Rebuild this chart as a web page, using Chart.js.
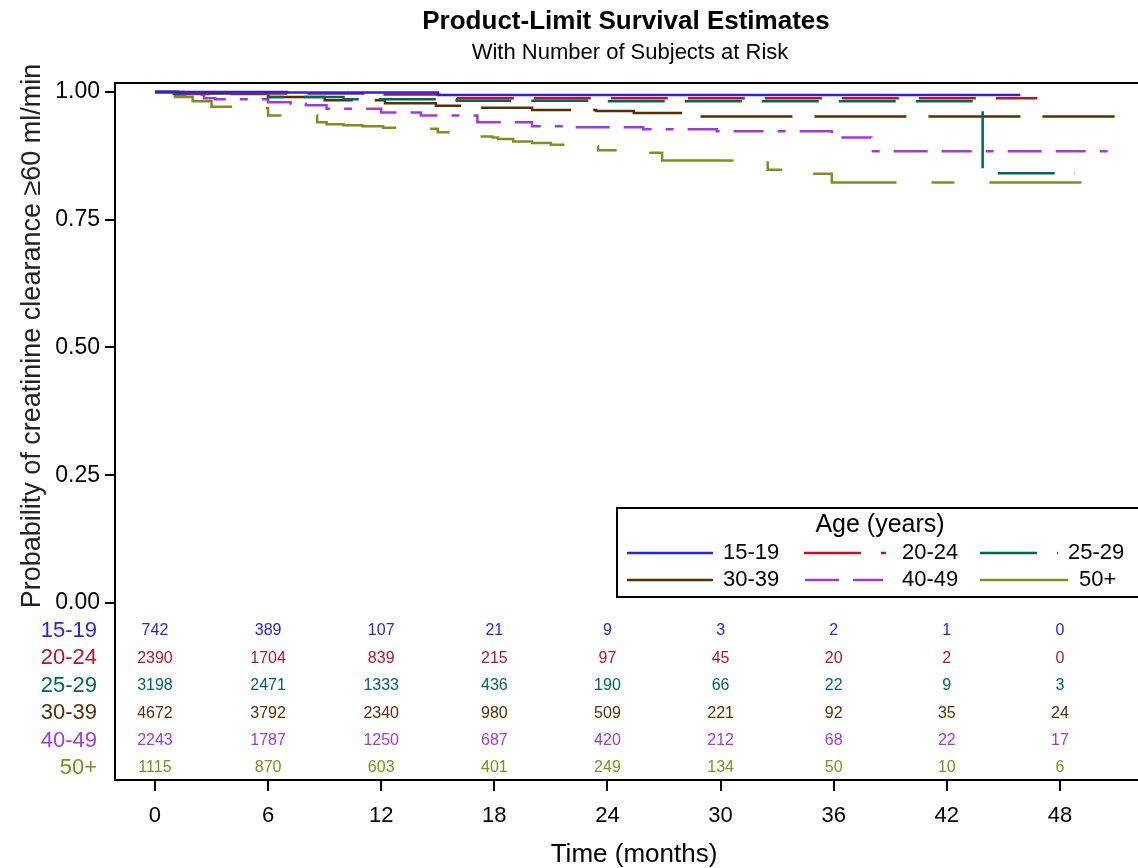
<!DOCTYPE html>
<html>
<head>
<meta charset="utf-8">
<script src="https://cdn.jsdelivr.net/npm/chart.js@4.4.1/dist/chart.umd.min.js"></script>
<style>
  html, body { margin: 0; padding: 0; background: #fff; overflow: hidden; }
  #wrap { width: 1138px; height: 868px; }
</style>
</head>
<body>
<div id="wrap"><canvas id="kmChart" width="1138" height="868"></canvas></div>
<script>
const FONT = "'Liberation Sans', Arial, sans-serif";

const groups = ["15-19", "20-24", "25-29", "30-39", "40-49", "50+"];
const colors = ["#2A25D9", "#B2182B", "#01665E", "#543005", "#9D3CDB", "#7F8E1F"];
const dashes = [[], [57, 20], [57, 20], [92, 22], [34, 14, 30, 14, 8, 14], [92, 35, 23, 35]];

// Kaplan-Meier steps: [month, survival]
const surv1519 = [[0, 1], [7, 0.999], [15, 0.994], [45.9, 0.994]];
const surv2024 = [[0, 1], [1.5, 0.997], [12, 0.995], [16, 0.988], [46.8, 0.988]];
const surv2529 = [[0, 1], [1, 0.996], [6, 0.990], [10, 0.986], [16, 0.983], [24, 0.982], [43.9, 0.841], [48.8, 0.841]];
const surv3039 = [[0, 1], [1.2, 0.997], [6, 0.990], [9, 0.984], [12.2, 0.978], [14.9, 0.973], [16.3, 0.969],
  [20, 0.965], [23.4, 0.963], [25.4, 0.959], [28, 0.952], [50.9, 0.952]];
const surv4049 = [[0, 1], [1.2, 0.995], [2.6, 0.988], [3.2, 0.986], [6, 0.980], [7.2, 0.977], [8, 0.974],
  [9.1, 0.967], [12, 0.960], [14.1, 0.954], [17.1, 0.941], [20, 0.933], [22, 0.931], [25.9, 0.927],
  [29.8, 0.923], [35.9, 0.911], [38, 0.884], [50.9, 0.884]];
const surv50 = [[0, 1], [1.06, 0.990], [2, 0.982], [3, 0.971], [4.1, 0.968], [6, 0.954], [8.6, 0.941],
  [9.1, 0.937], [10, 0.935], [11, 0.933], [12.1, 0.930], [13, 0.928], [15, 0.921], [16, 0.913],
  [17.9, 0.911], [18.2, 0.908], [19, 0.903], [20, 0.900], [21, 0.897], [22, 0.894], [23.5, 0.886],
  [24.9, 0.881], [26.9, 0.866], [32.5, 0.848], [33.8, 0.840], [35.9, 0.823], [50.8, 0.823]];
const curves = [surv1519, surv2024, surv2529, surv3039, surv4049, surv50];

// number at risk
const riskTimes = [0, 6, 12, 18, 24, 30, 36, 42, 48];
const risk1519 = [742, 389, 107, 21, 9, 3, 2, 1, 0];
const risk2024 = [2390, 1704, 839, 215, 97, 45, 20, 2, 0];
const risk2529 = [3198, 2471, 1333, 436, 190, 66, 22, 9, 3];
const risk3039 = [4672, 3792, 2340, 980, 509, 221, 92, 35, 24];
const risk4049 = [2243, 1787, 1250, 687, 420, 212, 68, 22, 17];
const risk50 = [1115, 870, 603, 401, 249, 134, 50, 10, 6];
const riskRows = [risk1519, risk2024, risk2529, risk3039, risk4049, risk50];

const yTicks = [0, 0.25, 0.5, 0.75, 1];

// legend placement: [lineStart, lineEnd, labelX, row]
const legendSlots = [[627, 713, 723, 0], [804, 886, 902, 0], [980, 1058, 1068, 0],
                     [627, 713, 723, 1], [805, 883, 902, 1], [980, 1068, 1079, 1]];

const overlay = {
  id: "overlay",
  afterDraw(chart) {
    const ctx = chart.ctx;
    const xs = chart.scales.x, ys = chart.scales.y;
    const area = chart.chartArea;
    ctx.save();

    // top frame
    ctx.strokeStyle = "#000";
    ctx.lineWidth = 2;
    ctx.beginPath();
    ctx.moveTo(area.left - 1, area.top);
    ctx.lineTo(area.right, area.top);
    ctx.stroke();

    // titles
    ctx.fillStyle = "#000";
    ctx.textAlign = "center";
    ctx.textBaseline = "middle";
    ctx.font = "bold 26px " + FONT;
    ctx.fillText("Product-Limit Survival Estimates", 626, 22);
    ctx.font = "22px " + FONT;
    ctx.fillText("With Number of Subjects at Risk", 630, 53);
    ctx.font = "26px " + FONT;
    ctx.fillText("Time (months)", 634, 855);

    ctx.save();
    ctx.translate(33, 336);
    ctx.rotate(-Math.PI / 2);
    ctx.font = "27px " + FONT;
    ctx.fillStyle = "#222";
    ctx.fillText("Probability of creatinine clearance \u226560 ml/min", 0, 0);
    ctx.restore();

    // at-risk table
    const y0 = ys.getPixelForValue(0);
    groups.forEach((g, i) => {
      const rowY = y0 + 28 + i * 27.4;
      ctx.fillStyle = colors[i];
      ctx.textAlign = "right";
      ctx.font = "22px " + FONT;
      ctx.fillText(g, 97, rowY);
      ctx.textAlign = "center";
      ctx.font = "16px " + FONT;
      riskRows[i].forEach((n, j) => ctx.fillText(String(n), xs.getPixelForValue(riskTimes[j]), rowY));
    });

    // legend
    ctx.fillStyle = "#fff";
    ctx.fillRect(617, 508, 560, 89);
    ctx.strokeStyle = "#000";
    ctx.lineWidth = 2;
    ctx.setLineDash([]);
    ctx.strokeRect(617, 508, 560, 89);
    ctx.fillStyle = "#000";
    ctx.textAlign = "center";
    ctx.font = "25px " + FONT;
    ctx.fillText("Age (years)", 880, 525);
    ctx.font = "22px " + FONT;
    ctx.textAlign = "left";
    legendSlots.forEach((s, i) => {
      const ly = s[3] === 0 ? 553 : 580;
      ctx.strokeStyle = colors[i];
      ctx.lineWidth = 2.5;
      ctx.setLineDash(dashes[i]);
      ctx.beginPath();
      ctx.moveTo(s[0], ly);
      ctx.lineTo(s[1], ly);
      ctx.stroke();
      ctx.setLineDash([]);
      ctx.fillStyle = "#000";
      ctx.fillText(groups[i], s[2], ly);
    });
    ctx.restore();
  }
};

new Chart(document.getElementById("kmChart"), {
  type: "line",
  data: {
    datasets: groups.map((g, i) => ({
      label: g,
      data: curves[i].map(p => ({ x: p[0], y: p[1] })),
      borderColor: colors[i],
      borderDash: dashes[i],
      borderWidth: 2.5,
      stepped: "before",
      pointRadius: 0,
      fill: false,
      tension: 0
    }))
  },
  options: {
    responsive: false,
    animation: false,
    devicePixelRatio: 1,
    layout: { padding: { top: 83, left: 0, right: 0, bottom: 0 } },
    plugins: { legend: { display: false }, tooltip: { enabled: false }, title: { display: false } },
    scales: {
      x: {
        type: "linear",
        min: -2.12,
        max: 52.14,
        afterBuildTicks: s => { s.ticks = riskTimes.map(v => ({ value: v })); },
        afterFit: s => { s.height = 88; },
        grid: { drawOnChartArea: false, drawTicks: true, tickLength: 11, color: "#000", lineWidth: 2 },
        border: { display: true, color: "#000", width: 2 },
        ticks: { color: "#000", font: { family: FONT, size: 22 }, padding: 12, maxRotation: 0,
                 callback: v => String(v) }
      },
      y: {
        type: "linear",
        min: -0.3464,
        max: 1.0176,
        afterBuildTicks: s => { s.ticks = yTicks.map(v => ({ value: v })); },
        afterFit: s => { s.width = 115; },
        grid: { drawOnChartArea: false, drawTicks: true, tickLength: 10, color: "#000", lineWidth: 2 },
        border: { display: true, color: "#000", width: 2 },
        ticks: { color: "#000", font: { family: FONT, size: 23 }, padding: 5,
                 callback: v => v.toFixed(2) }
      }
    }
  },
  plugins: [overlay]
});
</script>
</body>
</html>
